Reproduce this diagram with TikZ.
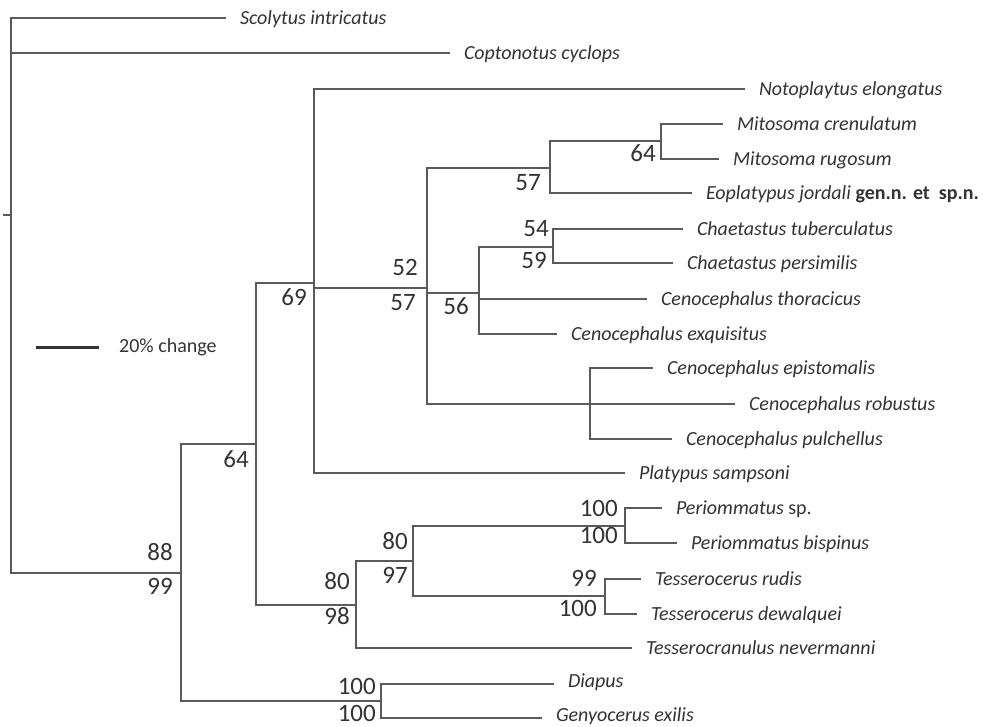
\documentclass[tikz,border=0pt]{standalone}
\usepackage{fontspec}
\setmainfont{Carlito}
\definecolor{treeline}{HTML}{5A5A5A}
\definecolor{txt}{HTML}{333333}
\tikzset{
  branch/.style={draw=treeline, line width=1.3pt},
  leaf/.style={anchor=west, inner sep=0pt, outer xsep=14pt, outer ysep=0pt,
    text height=12.9pt, text depth=0pt, text=txt,
    font=\fontsize{20}{24}\selectfont\itshape},
  raised/.style={text depth=6pt},
  boot/.style={anchor=east, inner sep=0pt, text height=15.8pt, text depth=0pt,
    text=txt, font=\fontsize{25}{30}\selectfont},
  scalebar/.style={draw=txt, line width=3pt},
}
\begin{document}
\begin{tikzpicture}[x=1pt,y=-1pt]
\useasboundingbox[fill=white] (0,0) rectangle (983,726);
% leaves
\node[leaf] (scol) at (226,18) {Scolytus intricatus};
\node[leaf] (copt) at (450,53) {Coptonotus cyclops};
\node[leaf] (noto) at (745,89) {Notoplaytus elongatus};
\node[leaf] (mcren) at (723,124) {Mitosoma crenulatum};
\node[leaf] (mrug) at (719,159) {Mitosoma rugosum};
\node[leaf] (eopl) at (692,193) {Eoplatypus jordali \upshape\bfseries gen.n. et\ \ sp.n.};
\node[leaf] (ctub) at (683,229) {Chaetastus tuberculatus};
\node[leaf] (cper) at (673,263) {Chaetastus persimilis};
\node[leaf] (thor) at (647,299) {Cenocephalus thoracicus};
\node[leaf] (exq) at (557,334) {Cenocephalus exquisitus};
\node[leaf] (epist) at (653,368) {Cenocephalus epistomalis};
\node[leaf] (robu) at (735,404) {Cenocephalus robustus};
\node[leaf] (pulc) at (672,439) {Cenocephalus pulchellus};
\node[leaf] (platy) at (625,473) {Platypus sampsoni};
\node[leaf] (psp) at (662,508) {Periommatus \upshape sp.};
\node[leaf] (pbis) at (677,543) {Periommatus bispinus};
\node[leaf] (trud) at (641,579) {Tesserocerus rudis};
\node[leaf] (tdew) at (637,614) {Tesserocerus dewalquei};
\node[leaf] (tcran) at (632,648) {Tesserocranulus nevermanni};
\node[leaf, raised] (diap) at (554,684) {Diapus};
\node[leaf, raised] (geny) at (542,718) {Genyocerus exilis};
% internal nodes
\coordinate (stub) at (3,215);
\coordinate (r) at (11,215);
\coordinate (A) at (181,573);
\coordinate (B) at (256,444);
\coordinate (C) at (314,283);
\coordinate (D) at (427,288);
\coordinate (E) at (550,168);
\coordinate (F) at (661,141);
\coordinate (G) at (479,293);
\coordinate (H) at (553,247);
\coordinate (I) at (590,404);
\coordinate (Ie) at (624,404);
\coordinate (J) at (356,605);
\coordinate (K) at (413,561);
\coordinate (L) at (625,526);
\coordinate (M) at (605,596);
\coordinate (N) at (381,701);
% branches
\draw[branch] (stub) -- (r);
\draw[branch] (r) |- (scol.west);
\draw[branch] (r) |- (copt.west);
\draw[branch] (r) |- (A);
\draw[branch] (A) |- (B);
\draw[branch] (A) |- (N);
\draw[branch] (B) |- (C);
\draw[branch] (B) |- (J);
\draw[branch] (C) |- (noto.west);
\draw[branch] (C) |- (D);
\draw[branch] (C) |- (platy.west);
\draw[branch] (D) |- (E);
\draw[branch] (D) |- (G);
\draw[branch] (D) |- (robu.west);
\draw[branch, line width=2pt] (I) -- (Ie);
\draw[branch] (E) |- (F);
\draw[branch] (E) |- (eopl.west);
\draw[branch] (F) |- (mcren.west);
\draw[branch] (F) |- (mrug.west);
\draw[branch] (G) |- (H);
\draw[branch] (G) |- (thor.west);
\draw[branch] (G) |- (exq.west);
\draw[branch] (H) |- (ctub.west);
\draw[branch] (H) |- (cper.west);
\draw[branch] (I) |- (epist.west);
\draw[branch] (I) |- (pulc.west);
\draw[branch] (J) |- (K);
\draw[branch] (J) |- (tcran.west);
\draw[branch] (K) |- (L);
\draw[branch] (K) |- (M);
\draw[branch] (L) |- (psp.west);
\draw[branch] (L) |- (pbis.west);
\draw[branch] (M) |- (trud.west);
\draw[branch] (M) |- (tdew.west);
\draw[branch] (N) |- (diap.west);
\draw[branch] (N) |- (geny.west);
% bootstrap values
\node[boot] (bA1) at (173,553) {88};
\node[boot] (bA2) at (173,587) {99};
\node[boot] (bB) at (249,460) {64};
\node[boot] (bC) at (307,298) {69};
\node[boot] (bD1) at (418,268) {52};
\node[boot] (bD2) at (416,303) {57};
\node[boot] (bG) at (469,307) {56};
\node[boot] (bE) at (541,183) {57};
\node[boot] (bF) at (656,154) {64};
\node[boot] (bH1) at (549,229) {54};
\node[boot] (bH2) at (547,261) {59};
\node[boot] (bJ1) at (350,582) {80};
\node[boot] (bJ2) at (350,617) {98};
\node[boot] (bK1) at (408,542) {80};
\node[boot] (bK2) at (408,576) {97};
\node[boot] (bL1) at (618,509) {100};
\node[boot] (bL2) at (618,536) {100};
\node[boot] (bM1) at (597,579) {99};
\node[boot] (bM2) at (597,609) {100};
\node[boot] (bN1) at (376,687) {100};
\node[boot] (bN2) at (376,714) {100};
% scale bar
\coordinate (sb1) at (36,347);
\coordinate (sb2) at (99,347);
\draw[scalebar] (sb1) -- (sb2);
\node[anchor=west, inner sep=0pt, text height=12.6pt, text depth=0pt, text=txt,
  font=\fontsize{20}{24}\selectfont] (sbl) at (119,346) {20\% change};
\end{tikzpicture}
\end{document}
